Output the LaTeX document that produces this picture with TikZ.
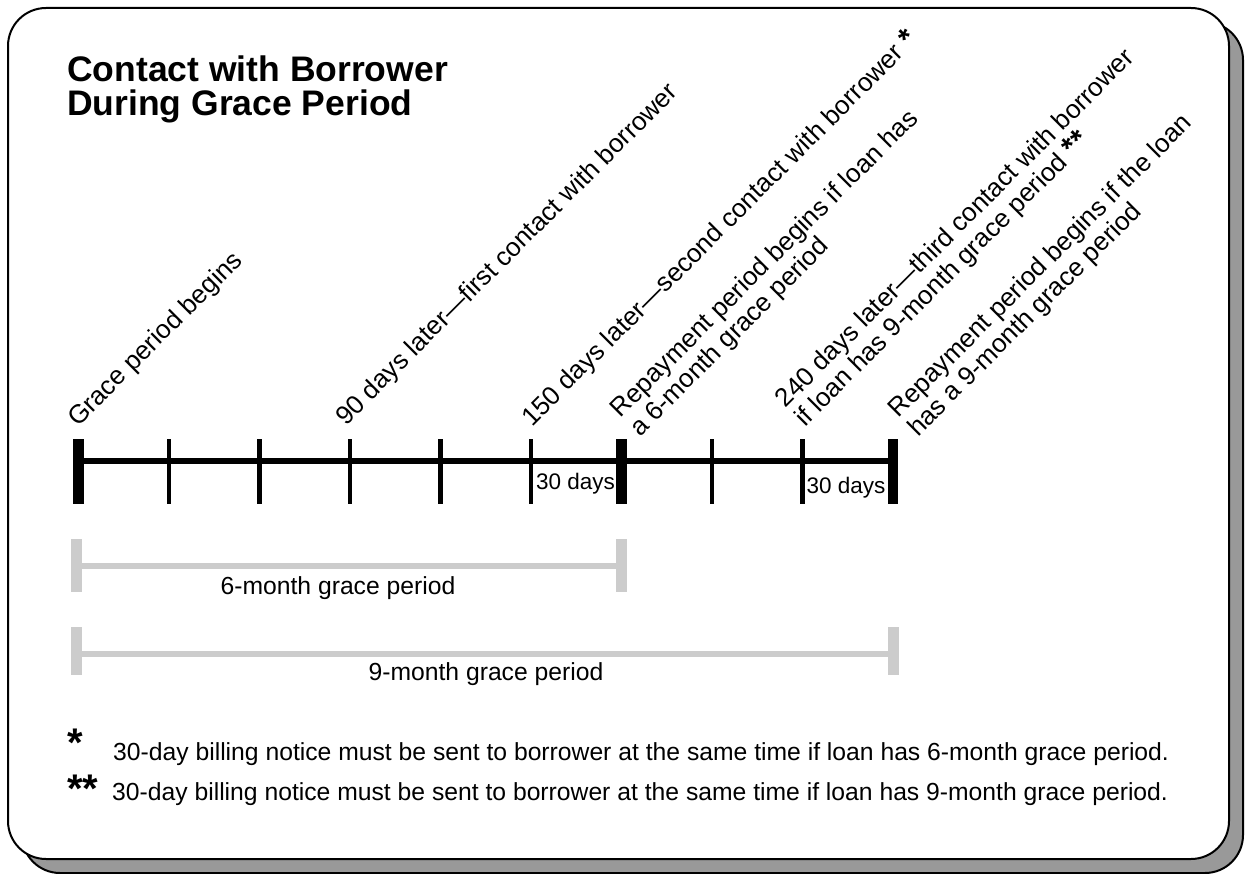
\documentclass[tikz,border=0pt]{standalone}
\usepackage{fontspec}
\setmainfont{Liberation Sans}
\usetikzlibrary{calc}
\definecolor{shadowgray}{RGB}{153,153,153}
\definecolor{bargray}{RGB}{204,204,204}
\begin{document}
\begin{tikzpicture}[x=1pt,y=-1pt,
  frame/.style={line width=2pt, rounded corners=38pt},
  axis/.style={line width=6pt},
  majortick/.style={line width=10.5pt},
  minortick/.style={line width=4.5pt},
  grayv/.style={bargray, line width=11pt},
  grayh/.style={bargray, line width=5.7pt},
  tlabel/.style={rotate=45, anchor=south west, inner sep=0pt, text depth=0pt, align=left, font=\fontsize{26}{27}\selectfont},
  daylabel/.style={anchor=base, inner sep=0pt, font=\fontsize{22.5}{24}\selectfont},
  txt/.style={inner sep=0pt, font=\fontsize{24.7}{27}\selectfont},
  fnstar/.style={inner sep=0pt, anchor=base west, font=\fontsize{40}{40}\selectfont\bfseries},
]
\useasboundingbox (0,0) rectangle (1245,874);
% frame with shadow
\draw[frame, fill=shadowgray] (22,22) rectangle (1243,873);
\draw[frame, fill=white] (8,8) rectangle (1229,859);

% title
\node[inner sep=0pt, anchor=south west, text depth=0pt, align=left,
      font=\fontsize{35.5}{34}\selectfont\bfseries] (title) at (67,115.5)
  {Contact with Borrower\\During Grace Period};

% timeline coordinates
\foreach \i in {0,...,9} \coordinate (t\i) at ({78.7+90.5*\i},461);
\draw[axis] (t0) -- (t9);
\foreach \i in {0,6,9}
  \draw[majortick] ([yshift=22pt]t\i) -- ([yshift=-43pt]t\i);
\foreach \i in {1,2,3,4,5,7,8}
  \draw[minortick] ([yshift=22pt]t\i) -- ([yshift=-43pt]t\i);

\node[daylabel] (d1) at ($(t5)!0.5!(t6)+(-1,28)$) {30 days};
\node[daylabel] (d2) at ($(t8)!0.5!(t9)+(-2,32)$) {30 days};

% rotated labels
\node[tlabel] (l0) at (78,428) {Grace period begins};
\node[tlabel] (l3) at (346,427) {90 days later—first contact with borrower};
\node[tlabel] (l5) at (532,428) {150 days later—second contact with borrower {\bfseries\fontsize{30}{30}\selectfont *}};
\node[tlabel] (l6) at (640,438) {Repayment period begins if loan has\\a 6-month grace period};
\node[tlabel] (l8) at (805,428) {240 days later—third contact with borrower\\if loan has 9-month grace period {\bfseries\fontsize{30}{30}\selectfont **}};
\node[tlabel] (l9) at (918,438) {Repayment period begins if the loan\\has a 9-month grace period};

% grace period bars
\coordinate (g6a) at (76.7,539); \coordinate (g6b) at (76.7,592);
\coordinate (g6c) at (621.7,539); \coordinate (g6d) at (621.7,592);
\coordinate (g6l) at (76.7,566); \coordinate (g6r) at (621.7,566);
\draw[grayv] (g6a) -- (g6b);
\draw[grayv] (g6c) -- (g6d);
\draw[grayh] (g6l) -- (g6r);
\node[txt, anchor=base] (p6) at (338,594) {6-month grace period};

\coordinate (g9a) at (76.7,627); \coordinate (g9b) at (76.7,675);
\coordinate (g9c) at (893.2,627); \coordinate (g9d) at (893.2,675);
\coordinate (g9l) at (76.7,654); \coordinate (g9r) at (893.2,654);
\draw[grayv] (g9a) -- (g9b);
\draw[grayv] (g9c) -- (g9d);
\draw[grayh] (g9l) -- (g9r);
\node[txt, anchor=base] (p9) at (486,680) {9-month grace period};

% footnotes
\node[fnstar] (s1) at (67,756) {*};
\node[txt, anchor=base west] (f1) at (113,760) {30-day billing notice must be sent to borrower at the same time if loan has 6-month grace period.};
\node[fnstar] (s2) at (67,802) {**};
\node[txt, anchor=base west] (f2) at (112,800) {30-day billing notice must be sent to borrower at the same time if loan has 9-month grace period.};
\end{tikzpicture}
\end{document}
